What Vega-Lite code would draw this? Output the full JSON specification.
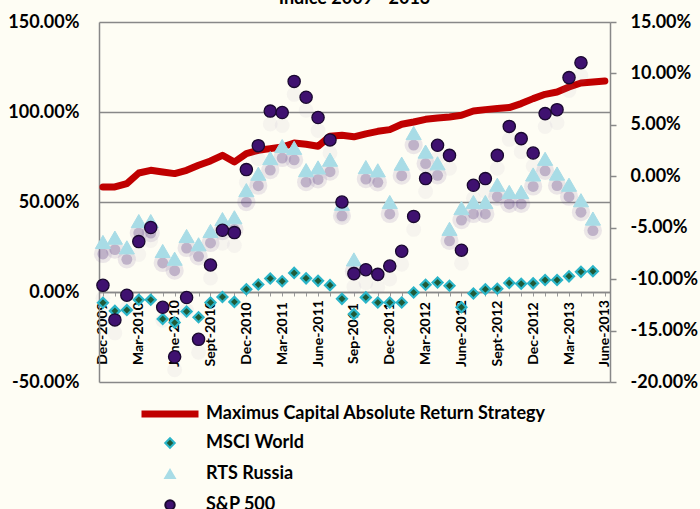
{
  "$schema": "https://vega.github.io/schema/vega-lite/v6.json",
  "width": 511,
  "height": 360,
  "autosize": {"type": "none"},
  "padding": {"left": 99, "top": 22, "right": 90, "bottom": 127},
  "background": "#FEFDF4",
  "title": {"text": "Indice 2009 - 2013", "font": "Lato", "fontSize": 18, "fontWeight": "bold", "color": "#000000", "anchor": "middle", "offset": 5},
  "config": {"view": {"stroke": null}, "font": "Lato"},
  "datasets": {
    "strategy": [
      {"m": 0, "s": "Maximus Capital Absolute Return Strategy", "v": -1.04},
      {"m": 1, "s": "Maximus Capital Absolute Return Strategy", "v": -1.04},
      {"m": 2, "s": "Maximus Capital Absolute Return Strategy", "v": -0.71},
      {"m": 3, "s": "Maximus Capital Absolute Return Strategy", "v": 0.32},
      {"m": 4, "s": "Maximus Capital Absolute Return Strategy", "v": 0.58},
      {"m": 5, "s": "Maximus Capital Absolute Return Strategy", "v": 0.42},
      {"m": 6, "s": "Maximus Capital Absolute Return Strategy", "v": 0.26},
      {"m": 7, "s": "Maximus Capital Absolute Return Strategy", "v": 0.58},
      {"m": 8, "s": "Maximus Capital Absolute Return Strategy", "v": 1.07},
      {"m": 9, "s": "Maximus Capital Absolute Return Strategy", "v": 1.49},
      {"m": 10, "s": "Maximus Capital Absolute Return Strategy", "v": 2.04},
      {"m": 11, "s": "Maximus Capital Absolute Return Strategy", "v": 1.39},
      {"m": 12, "s": "Maximus Capital Absolute Return Strategy", "v": 2.21},
      {"m": 13, "s": "Maximus Capital Absolute Return Strategy", "v": 2.53},
      {"m": 14, "s": "Maximus Capital Absolute Return Strategy", "v": 2.69},
      {"m": 15, "s": "Maximus Capital Absolute Return Strategy", "v": 2.85},
      {"m": 16, "s": "Maximus Capital Absolute Return Strategy", "v": 3.24},
      {"m": 17, "s": "Maximus Capital Absolute Return Strategy", "v": 3.11},
      {"m": 18, "s": "Maximus Capital Absolute Return Strategy", "v": 2.92},
      {"m": 19, "s": "Maximus Capital Absolute Return Strategy", "v": 3.89},
      {"m": 20, "s": "Maximus Capital Absolute Return Strategy", "v": 3.99},
      {"m": 21, "s": "Maximus Capital Absolute Return Strategy", "v": 3.84},
      {"m": 22, "s": "Maximus Capital Absolute Return Strategy", "v": 4.13},
      {"m": 23, "s": "Maximus Capital Absolute Return Strategy", "v": 4.37},
      {"m": 24, "s": "Maximus Capital Absolute Return Strategy", "v": 4.54},
      {"m": 25, "s": "Maximus Capital Absolute Return Strategy", "v": 5.06},
      {"m": 26, "s": "Maximus Capital Absolute Return Strategy", "v": 5.28},
      {"m": 27, "s": "Maximus Capital Absolute Return Strategy", "v": 5.54},
      {"m": 28, "s": "Maximus Capital Absolute Return Strategy", "v": 5.67},
      {"m": 29, "s": "Maximus Capital Absolute Return Strategy", "v": 5.77},
      {"m": 30, "s": "Maximus Capital Absolute Return Strategy", "v": 5.93},
      {"m": 31, "s": "Maximus Capital Absolute Return Strategy", "v": 6.35},
      {"m": 32, "s": "Maximus Capital Absolute Return Strategy", "v": 6.48},
      {"m": 33, "s": "Maximus Capital Absolute Return Strategy", "v": 6.58},
      {"m": 34, "s": "Maximus Capital Absolute Return Strategy", "v": 6.68},
      {"m": 35, "s": "Maximus Capital Absolute Return Strategy", "v": 7.07},
      {"m": 36, "s": "Maximus Capital Absolute Return Strategy", "v": 7.55},
      {"m": 37, "s": "Maximus Capital Absolute Return Strategy", "v": 7.97},
      {"m": 38, "s": "Maximus Capital Absolute Return Strategy", "v": 8.2},
      {"m": 39, "s": "Maximus Capital Absolute Return Strategy", "v": 8.68},
      {"m": 40, "s": "Maximus Capital Absolute Return Strategy", "v": 9.07},
      {"m": 41, "s": "Maximus Capital Absolute Return Strategy", "v": 9.17},
      {"m": 42, "s": "Maximus Capital Absolute Return Strategy", "v": 9.27}
    ],
    "indices": [
      {"m": 0, "s": "RTS Russia", "v": 27.8}, {"m": 1, "s": "RTS Russia", "v": 30.2}, {"m": 2, "s": "RTS Russia", "v": 24.8},
      {"m": 3, "s": "RTS Russia", "v": 39.4}, {"m": 4, "s": "RTS Russia", "v": 39.4}, {"m": 5, "s": "RTS Russia", "v": 22.8},
      {"m": 6, "s": "RTS Russia", "v": 18.5}, {"m": 7, "s": "RTS Russia", "v": 31.1}, {"m": 8, "s": "RTS Russia", "v": 26.5},
      {"m": 9, "s": "RTS Russia", "v": 33.9}, {"m": 10, "s": "RTS Russia", "v": 40.5}, {"m": 11, "s": "RTS Russia", "v": 41.5},
      {"m": 12, "s": "RTS Russia", "v": 56.6}, {"m": 13, "s": "RTS Russia", "v": 65.7}, {"m": 14, "s": "RTS Russia", "v": 74.4},
      {"m": 15, "s": "RTS Russia", "v": 81.1}, {"m": 16, "s": "RTS Russia", "v": 80.1}, {"m": 17, "s": "RTS Russia", "v": 67.7},
      {"m": 18, "s": "RTS Russia", "v": 69.2}, {"m": 19, "s": "RTS Russia", "v": 73.5}, {"m": 20, "s": "RTS Russia", "v": 49.0},
      {"m": 21, "s": "RTS Russia", "v": 18.1}, {"m": 22, "s": "RTS Russia", "v": 69.4}, {"m": 23, "s": "RTS Russia", "v": 67.6},
      {"m": 24, "s": "RTS Russia", "v": 50.0}, {"m": 25, "s": "RTS Russia", "v": 71.3}, {"m": 26, "s": "RTS Russia", "v": 88.3},
      {"m": 27, "s": "RTS Russia", "v": 78.0}, {"m": 28, "s": "RTS Russia", "v": 71.5}, {"m": 29, "s": "RTS Russia", "v": 35.1},
      {"m": 30, "s": "RTS Russia", "v": 46.6}, {"m": 31, "s": "RTS Russia", "v": 50.0}, {"m": 32, "s": "RTS Russia", "v": 50.0},
      {"m": 33, "s": "RTS Russia", "v": 59.6}, {"m": 34, "s": "RTS Russia", "v": 55.6}, {"m": 35, "s": "RTS Russia", "v": 55.6},
      {"m": 36, "s": "RTS Russia", "v": 65.3}, {"m": 37, "s": "RTS Russia", "v": 74.0}, {"m": 38, "s": "RTS Russia", "v": 65.8},
      {"m": 39, "s": "RTS Russia", "v": 59.6}, {"m": 40, "s": "RTS Russia", "v": 51.0}, {"m": 41, "s": "RTS Russia", "v": 40.8},
      {"m": 0, "s": "MSCI World", "v": -6.0}, {"m": 1, "s": "MSCI World", "v": -10.5}, {"m": 2, "s": "MSCI World", "v": -10.0},
      {"m": 3, "s": "MSCI World", "v": -4.3}, {"m": 4, "s": "MSCI World", "v": -4.3}, {"m": 5, "s": "MSCI World", "v": -15.0},
      {"m": 6, "s": "MSCI World", "v": -17.0}, {"m": 7, "s": "MSCI World", "v": -10.8}, {"m": 8, "s": "MSCI World", "v": -14.0},
      {"m": 9, "s": "MSCI World", "v": -5.8}, {"m": 10, "s": "MSCI World", "v": -2.8}, {"m": 11, "s": "MSCI World", "v": -5.5},
      {"m": 12, "s": "MSCI World", "v": 1.5}, {"m": 13, "s": "MSCI World", "v": 4.2}, {"m": 14, "s": "MSCI World", "v": 7.5},
      {"m": 15, "s": "MSCI World", "v": 6.0}, {"m": 16, "s": "MSCI World", "v": 10.6}, {"m": 17, "s": "MSCI World", "v": 7.6},
      {"m": 18, "s": "MSCI World", "v": 6.2}, {"m": 19, "s": "MSCI World", "v": 3.8}, {"m": 20, "s": "MSCI World", "v": -3.8},
      {"m": 21, "s": "MSCI World", "v": -12.3}, {"m": 22, "s": "MSCI World", "v": -3.0}, {"m": 23, "s": "MSCI World", "v": -5.8},
      {"m": 24, "s": "MSCI World", "v": -5.8}, {"m": 25, "s": "MSCI World", "v": -5.8}, {"m": 26, "s": "MSCI World", "v": -0.3},
      {"m": 27, "s": "MSCI World", "v": 4.0}, {"m": 28, "s": "MSCI World", "v": 5.3}, {"m": 29, "s": "MSCI World", "v": 3.5},
      {"m": 30, "s": "MSCI World", "v": -8.5}, {"m": 31, "s": "MSCI World", "v": -0.8}, {"m": 32, "s": "MSCI World", "v": 1.5},
      {"m": 33, "s": "MSCI World", "v": 1.8}, {"m": 34, "s": "MSCI World", "v": 5.0}, {"m": 35, "s": "MSCI World", "v": 4.6},
      {"m": 36, "s": "MSCI World", "v": 4.8}, {"m": 37, "s": "MSCI World", "v": 6.7}, {"m": 38, "s": "MSCI World", "v": 6.7},
      {"m": 39, "s": "MSCI World", "v": 8.7}, {"m": 40, "s": "MSCI World", "v": 11.2}, {"m": 41, "s": "MSCI World", "v": 11.5},
      {"m": 0, "s": "S&P 500", "v": 3.7}, {"m": 1, "s": "S&P 500", "v": -15.5}, {"m": 2, "s": "S&P 500", "v": -1.8},
      {"m": 3, "s": "S&P 500", "v": 28.0}, {"m": 4, "s": "S&P 500", "v": 35.8}, {"m": 5, "s": "S&P 500", "v": -8.5},
      {"m": 6, "s": "S&P 500", "v": -36.0}, {"m": 7, "s": "S&P 500", "v": -3.1}, {"m": 8, "s": "S&P 500", "v": -26.3},
      {"m": 9, "s": "S&P 500", "v": 15.0}, {"m": 10, "s": "S&P 500", "v": 34.3}, {"m": 11, "s": "S&P 500", "v": 33.0},
      {"m": 12, "s": "S&P 500", "v": 68.0}, {"m": 13, "s": "S&P 500", "v": 81.3}, {"m": 14, "s": "S&P 500", "v": 100.5},
      {"m": 15, "s": "S&P 500", "v": 99.7}, {"m": 16, "s": "S&P 500", "v": 117.0}, {"m": 17, "s": "S&P 500", "v": 108.2},
      {"m": 18, "s": "S&P 500", "v": 96.9}, {"m": 19, "s": "S&P 500", "v": 84.5}, {"m": 20, "s": "S&P 500", "v": 50.0},
      {"m": 21, "s": "S&P 500", "v": 10.2}, {"m": 22, "s": "S&P 500", "v": 12.4}, {"m": 23, "s": "S&P 500", "v": 9.8},
      {"m": 24, "s": "S&P 500", "v": 14.4}, {"m": 25, "s": "S&P 500", "v": 22.6}, {"m": 26, "s": "S&P 500", "v": 42.0},
      {"m": 27, "s": "S&P 500", "v": 63.0}, {"m": 28, "s": "S&P 500", "v": 81.5}, {"m": 29, "s": "S&P 500", "v": 75.9},
      {"m": 30, "s": "S&P 500", "v": 23.2}, {"m": 31, "s": "S&P 500", "v": 59.3}, {"m": 32, "s": "S&P 500", "v": 63.0},
      {"m": 33, "s": "S&P 500", "v": 75.9}, {"m": 34, "s": "S&P 500", "v": 92.0}, {"m": 35, "s": "S&P 500", "v": 85.2},
      {"m": 36, "s": "S&P 500", "v": 77.2}, {"m": 37, "s": "S&P 500", "v": 99.1}, {"m": 38, "s": "S&P 500", "v": 101.3},
      {"m": 39, "s": "S&P 500", "v": 119.1}, {"m": 40, "s": "S&P 500", "v": 127.4}
    ]
  },
  "layer": [
    {
      "data": {"name": "strategy"},
      "mark": {"type": "line", "strokeWidth": 7, "strokeCap": "round", "strokeJoin": "round"},
      "encoding": {
        "x": {
          "field": "m", "type": "quantitative",
          "scale": {"domain": [-0.33, 42.43], "nice": false, "zero": false},
          "axis": {
            "orient": "bottom", "offset": -90, "title": null, "grid": false,
            "values": [0,1,2,3,4,5,6,7,8,9,10,11,12,13,14,15,16,17,18,19,20,21,22,23,24,25,26,27,28,29,30,31,32,33,34,35,36,37,38,39,40,41,42],
            "labelExpr": "datum.value % 3 == 0 ? ['Dec-2009','Mar-2010','June-2010','Sept-2010','Dec-2010','Mar-2011','June-2011','Sep-2011','Dec-2011','Mar-2012','June-2012','Sept-2012','Dec-2012','Mar-2013','June-2013'][datum.value / 3] : ''",
            "labelAngle": -90, "labelAlign": "center", "labelBaseline": "middle", "labelPadding": 37,
            "labelOverlap": false, "labelFlush": false, "labelBound": false,
            "labelFont": "Lato", "labelFontSize": 14, "labelFontWeight": "bold", "labelColor": "#000000",
            "tickSize": 4, "tickColor": "#999999", "tickWidth": 1,
            "domainColor": "#888888", "domainWidth": 1.5
          }
        },
        "y": {
          "field": "v", "type": "quantitative",
          "scale": {"domain": [-20, 15], "nice": false, "zero": false},
          "axis": {
            "orient": "right", "title": null, "grid": false,
            "values": [-20, -15, -10, -5, 0, 5, 10, 15],
            "labelExpr": "(datum.value < 0 ? '-' : '') + format(abs(datum.value) / 100, '.2%')",
            "labelAlign": "left", "labelBaseline": "middle", "labelPadding": 14,
            "labelFont": "Lato", "labelFontSize": 18, "labelFontWeight": "bold", "labelColor": "#000000",
            "tickSize": 6, "tickColor": "#888888", "tickWidth": 1.5,
            "domainColor": "#888888", "domainWidth": 1.5
          }
        },
        "color": {
          "field": "s", "type": "nominal",
          "scale": {"domain": ["Maximus Capital Absolute Return Strategy"], "range": ["#C00000"]},
          "legend": {
            "orient": "none", "legendX": 39, "legendY": 360, "title": null, "padding": 0,
            "symbolType": "stroke", "symbolSize": 3249, "symbolStrokeWidth": 7,
            "labelFont": "Lato", "labelFontSize": 18, "labelFontWeight": "bold", "labelColor": "#000000",
            "labelOffset": 4, "labelLimit": 600
          }
        }
      }
    },
    {
      "data": {"name": "indices"},
      "encoding": {
        "x": {
          "field": "m", "type": "quantitative",
          "scale": {"domain": [-0.33, 42.43], "nice": false, "zero": false},
          "axis": {
            "orient": "bottom", "offset": -90, "title": null, "grid": false,
            "values": [0,1,2,3,4,5,6,7,8,9,10,11,12,13,14,15,16,17,18,19,20,21,22,23,24,25,26,27,28,29,30,31,32,33,34,35,36,37,38,39,40,41,42],
            "labelExpr": "datum.value % 3 == 0 ? ['Dec-2009','Mar-2010','June-2010','Sept-2010','Dec-2010','Mar-2011','June-2011','Sep-2011','Dec-2011','Mar-2012','June-2012','Sept-2012','Dec-2012','Mar-2013','June-2013'][datum.value / 3] : ''",
            "labelAngle": -90, "labelAlign": "center", "labelBaseline": "middle", "labelPadding": 37,
            "labelOverlap": false, "labelFlush": false, "labelBound": false,
            "labelFont": "Lato", "labelFontSize": 14, "labelFontWeight": "bold", "labelColor": "#000000",
            "tickSize": 4, "tickColor": "#999999", "tickWidth": 1,
            "domainColor": "#888888", "domainWidth": 1.5
          }
        },
        "y": {
          "field": "v", "type": "quantitative",
          "scale": {"domain": [-50, 150], "nice": false, "zero": false},
          "axis": {
            "orient": "left", "title": null, "grid": true, "gridColor": "#888888", "gridWidth": 1.5,
            "values": [-50, 0, 50, 100, 150],
            "labelExpr": "(datum.value < 0 ? '-' : '') + format(abs(datum.value) / 100, '.2%')",
            "labelAlign": "right", "labelBaseline": "middle", "labelPadding": 20,
            "labelFont": "Lato", "labelFontSize": 18, "labelFontWeight": "bold", "labelColor": "#000000",
            "ticks": false, "tickSize": 0,
            "domainColor": "#888888", "domainWidth": 1.5
          }
        }
      },
      "layer": [
        {
          "transform": [{"filter": "datum.s == 'RTS Russia'"}],
          "mark": {"type": "point", "shape": "circle", "filled": true, "color": "#6A4A90", "opacity": 0.13, "size": 330, "yOffset": 12, "strokeWidth": 0}
        },
        {
          "transform": [{"filter": "datum.s == 'RTS Russia'"}],
          "mark": {"type": "point", "shape": "circle", "filled": true, "color": "#5A3A80", "opacity": 0.3, "size": 120, "yOffset": 12, "strokeWidth": 0}
        },
        {
          "transform": [{"filter": "datum.s == 'S&P 500'"}],
          "mark": {"type": "point", "shape": "circle", "filled": true, "color": "#9A8CB0", "opacity": 0.08, "size": 220, "yOffset": 13, "strokeWidth": 0}
        },
        {
          "transform": [{"filter": "datum.s == 'RTS Russia'"}],
          "mark": {"type": "point", "filled": true, "size": 230, "strokeWidth": 1, "opacity": 1},
          "encoding": {
            "shape": {"field": "s", "type": "nominal", "scale": {"domain": ["MSCI World", "RTS Russia", "S&P 500"], "range": ["diamond", "triangle-up", "circle"]},
              "legend": {"orient": "none", "legendX": 62, "legendY": 412, "title": null, "padding": 0, "symbolSize": 90, "symbolStrokeWidth": 2, "rowPadding": 13, "labelFont": "Lato", "labelFontSize": 18, "labelFontWeight": "bold", "labelColor": "#000000", "labelOffset": 27, "labelLimit": 400}},
            "fill": {"field": "s", "type": "nominal", "scale": {"domain": ["MSCI World", "RTS Russia", "S&P 500"], "range": ["#1F5A37", "#A8DCE6", "#3F1170"]},
              "legend": {"orient": "none", "legendX": 62, "legendY": 412, "title": null, "padding": 0, "symbolSize": 90, "symbolStrokeWidth": 2, "rowPadding": 13, "labelFont": "Lato", "labelFontSize": 18, "labelFontWeight": "bold", "labelColor": "#000000", "labelOffset": 27, "labelLimit": 400}},
            "stroke": {"field": "s", "type": "nominal", "scale": {"domain": ["MSCI World", "RTS Russia", "S&P 500"], "range": ["#2BB5C8", "#A8DCE6", "#1A0830"]},
              "legend": {"orient": "none", "legendX": 62, "legendY": 412, "title": null, "padding": 0, "symbolSize": 90, "symbolStrokeWidth": 2, "rowPadding": 13, "labelFont": "Lato", "labelFontSize": 18, "labelFontWeight": "bold", "labelColor": "#000000", "labelOffset": 27, "labelLimit": 400}}
          }
        },
        {
          "transform": [{"filter": "datum.s == 'MSCI World'"}],
          "mark": {"type": "point", "filled": true, "size": 100, "strokeWidth": 2.2, "opacity": 1},
          "encoding": {
            "shape": {"field": "s", "type": "nominal", "scale": {"domain": ["MSCI World", "RTS Russia", "S&P 500"], "range": ["diamond", "triangle-up", "circle"]}},
            "fill": {"field": "s", "type": "nominal", "scale": {"domain": ["MSCI World", "RTS Russia", "S&P 500"], "range": ["#1F5A37", "#A8DCE6", "#3F1170"]}},
            "stroke": {"field": "s", "type": "nominal", "scale": {"domain": ["MSCI World", "RTS Russia", "S&P 500"], "range": ["#2BB5C8", "#A8DCE6", "#1A0830"]}}
          }
        },
        {
          "transform": [{"filter": "datum.s == 'S&P 500'"}],
          "mark": {"type": "point", "filled": true, "size": 150, "strokeWidth": 1.3, "opacity": 1},
          "encoding": {
            "shape": {"field": "s", "type": "nominal", "scale": {"domain": ["MSCI World", "RTS Russia", "S&P 500"], "range": ["diamond", "triangle-up", "circle"]}},
            "fill": {"field": "s", "type": "nominal", "scale": {"domain": ["MSCI World", "RTS Russia", "S&P 500"], "range": ["#1F5A37", "#A8DCE6", "#3F1170"]}},
            "stroke": {"field": "s", "type": "nominal", "scale": {"domain": ["MSCI World", "RTS Russia", "S&P 500"], "range": ["#2BB5C8", "#A8DCE6", "#1A0830"]}}
          }
        }
      ]
    }
  ],
  "resolve": {"scale": {"y": "independent"}, "axis": {"y": "independent"}}
}
